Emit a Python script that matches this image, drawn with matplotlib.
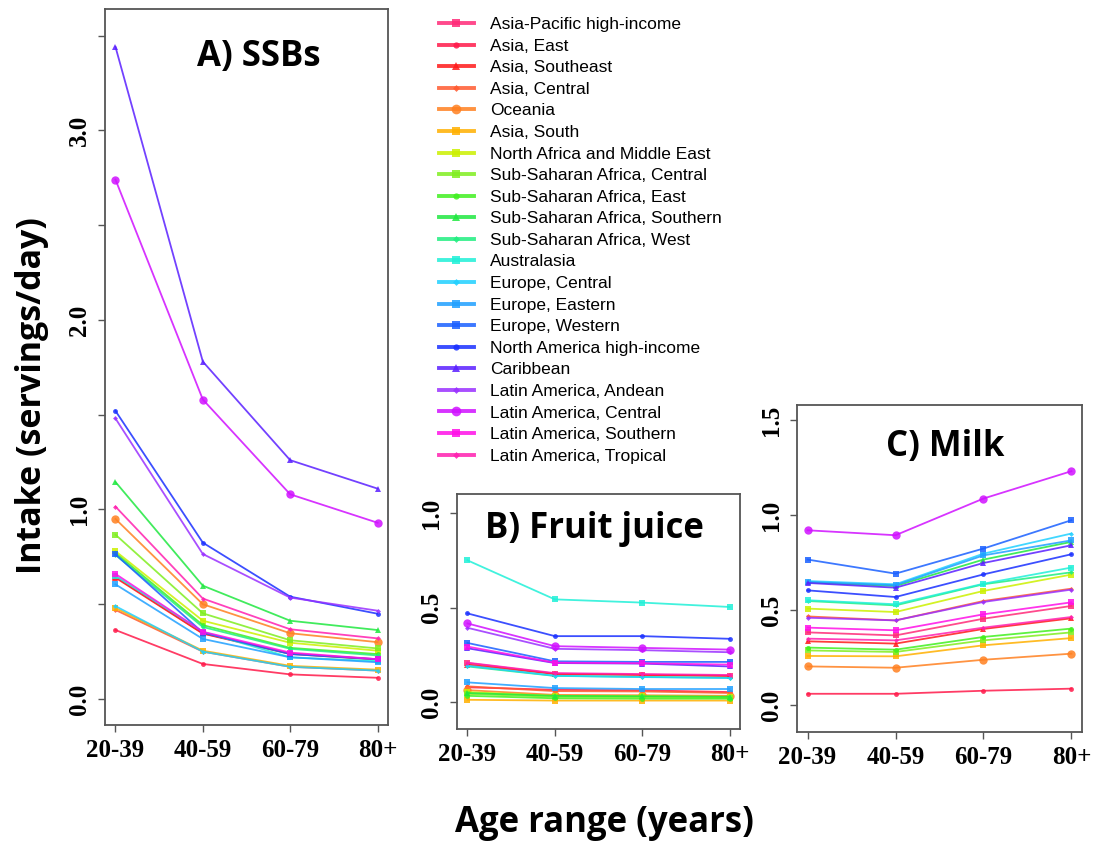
import matplotlib
matplotlib.use('Agg')
import matplotlib.pyplot as plt
from matplotlib.lines import Line2D

age_groups = ['20-39', '40-59', '60-79', '80+']

regions = [
    'Asia-Pacific high-income', 'Asia, East', 'Asia, Southeast', 'Asia, Central',
    'Oceania', 'Asia, South', 'North Africa and Middle East',
    'Sub-Saharan Africa, Central', 'Sub-Saharan Africa, East',
    'Sub-Saharan Africa, Southern', 'Sub-Saharan Africa, West', 'Australasia',
    'Europe, Central', 'Europe, Eastern', 'Europe, Western',
    'North America high-income', 'Caribbean', 'Latin America, Andean',
    'Latin America, Central', 'Latin America, Southern', 'Latin America, Tropical',
]

colors = [
    '#ff2a78', '#ff1a4a', '#ff1a1a', '#ff5a30', '#ff8020', '#ffb000', '#ccf000',
    '#80ee20', '#40f020', '#20e840', '#20ee80', '#20f0d8', '#20d0ff', '#20a0ff',
    '#1a60ff', '#1a30ff', '#5a20ff', '#9a30ff', '#d010ff', '#ff10e8', '#ff20b0',
]

markers = ['s', 'o', '^', 'D', 'o', 's', 's', 's', 'o', '^', 'D', 's', 'D', 's',
           's', 'o', '^', 'D', 'o', 's', 'D']
marker_sizes = [4.5, 3.5, 4.5, 2.5, 6, 4.5, 4.5, 4.5, 3.5, 4.5, 2.5, 4.5, 2.5, 4.5,
                4.5, 3.5, 4.5, 2.5, 6, 4.5, 2.5]

# A) SSBs
ssb_values = [
    [0.645, 0.347, 0.240, 0.210],
    [0.364, 0.185, 0.130, 0.112],
    [0.640, 0.345, 0.238, 0.208],
    [0.470, 0.250, 0.170, 0.150],
    [0.950, 0.500, 0.347, 0.300],
    [0.480, 0.255, 0.175, 0.155],
    [0.780, 0.413, 0.297, 0.255],
    [0.867, 0.452, 0.310, 0.267],
    [0.770, 0.390, 0.270, 0.237],
    [1.145, 0.598, 0.413, 0.364],
    [0.760, 0.380, 0.265, 0.230],
    [0.650, 0.355, 0.220, 0.200],
    [0.490, 0.250, 0.170, 0.150],
    [0.605, 0.317, 0.220, 0.194],
    [0.763, 0.350, 0.237, 0.210],
    [1.520, 0.825, 0.540, 0.450],
    [3.440, 1.780, 1.260, 1.110],
    [1.480, 0.765, 0.535, 0.466],
    [2.740, 1.580, 1.080, 0.930],
    [0.660, 0.355, 0.245, 0.210],
    [1.015, 0.530, 0.368, 0.320],
]

# B) Fruit juice
juice_values = [
    [0.208, 0.152, 0.147, 0.141],
    [0.080, 0.067, 0.064, 0.055],
    [0.200, 0.150, 0.145, 0.140],
    [0.085, 0.060, 0.058, 0.050],
    [0.065, 0.040, 0.038, 0.035],
    [0.014, 0.010, 0.010, 0.010],
    [0.055, 0.035, 0.033, 0.030],
    [0.045, 0.030, 0.028, 0.025],
    [0.035, 0.022, 0.020, 0.020],
    [0.050, 0.035, 0.033, 0.030],
    [0.190, 0.140, 0.135, 0.130],
    [0.750, 0.544, 0.527, 0.504],
    [0.194, 0.141, 0.134, 0.129],
    [0.106, 0.076, 0.071, 0.071],
    [0.314, 0.217, 0.214, 0.214],
    [0.470, 0.350, 0.350, 0.336],
    [0.286, 0.208, 0.205, 0.190],
    [0.394, 0.283, 0.276, 0.265],
    [0.417, 0.297, 0.288, 0.279],
    [0.295, 0.210, 0.207, 0.200],
    [0.210, 0.155, 0.150, 0.145],
]

# C) Milk
milk_values = [
    [0.384, 0.368, 0.456, 0.523],
    [0.061, 0.061, 0.077, 0.088],
    [0.337, 0.325, 0.402, 0.458],
    [0.468, 0.447, 0.549, 0.614],
    [0.205, 0.198, 0.240, 0.272],
    [0.260, 0.258, 0.316, 0.354],
    [0.509, 0.491, 0.602, 0.688],
    [0.289, 0.281, 0.342, 0.384],
    [0.304, 0.293, 0.360, 0.404],
    [0.647, 0.628, 0.767, 0.860],
    [0.549, 0.526, 0.637, 0.700],
    [0.553, 0.532, 0.640, 0.725],
    [0.654, 0.637, 0.798, 0.904],
    [0.649, 0.632, 0.789, 0.868],
    [0.767, 0.693, 0.825, 0.974],
    [0.605, 0.570, 0.689, 0.795],
    [0.644, 0.619, 0.749, 0.842],
    [0.461, 0.447, 0.544, 0.609],
    [0.921, 0.895, 1.088, 1.232],
    [0.409, 0.395, 0.479, 0.542],
    [0.351, 0.342, 0.409, 0.465],
]

W, H = 1107, 841
fig = plt.figure(figsize=(W / 100, H / 100), dpi=100)

tick_font = dict(family='Liberation Serif', size=18, weight='bold')
title_font = dict(family='Open Sans', weight='bold', size=25)


def make_panel(rect, values, ylim, yticks, ylabels, title, title_xy):
    ax = fig.add_axes([rect[0] / W, 1 - rect[3] / H, (rect[2] - rect[0]) / W,
                       (rect[3] - rect[1]) / H])
    x = list(range(len(age_groups)))
    for vals, c, m, ms in zip(values, colors, markers, marker_sizes):
        ax.plot(x, vals, color=c, marker=m, markersize=ms, lw=1.3, alpha=0.85,
                markeredgewidth=0)
    ax.set_xlim(-0.12, 3.12)
    ax.set_ylim(*ylim)
    ax.set_xticks(x)
    ax.set_xticklabels(age_groups, fontdict=tick_font)
    ax.set_yticks(yticks)
    ax.set_yticklabels(ylabels, fontdict=tick_font, rotation=90, va='center')
    ax.tick_params(direction='out', length=5, width=1.0, color='#555555', pad=5)
    for s in ax.spines.values():
        s.set_color('#555555')
        s.set_linewidth(1.3)
    fig.text(title_xy[0] / W, 1 - title_xy[1] / H, title, ha='center', va='center',
             **title_font)
    return ax


make_panel((105, 9, 388, 725), ssb_values, (-0.137, 3.64),
           [0, 0.5, 1, 1.5, 2, 2.5, 3, 3.5],
           ['0.0', '', '1.0', '', '2.0', '', '3.0', ''], 'A) SSBs', (259, 57))
make_panel((457, 494, 740, 729), juice_values, (-0.14, 1.10),
           [0, 0.5, 1.0], ['0.0', '0.5', '1.0'], 'B) Fruit juice', (594, 529))
make_panel((797, 405, 1082, 732), milk_values, (-0.14, 1.58),
           [0, 0.5, 1.0, 1.5], ['0.0', '0.5', '1.0', '1.5'], 'C) Milk', (945, 447))

handles = [Line2D([], [], color=c, marker=m, markersize=ms + 1, lw=2.8, alpha=0.85,
                  markeredgewidth=0)
           for c, m, ms in zip(colors, markers, marker_sizes)]
fig.legend(handles, regions, loc='upper left', bbox_to_anchor=(439 / W, 1 - 17 / H),
           frameon=False, borderpad=0, borderaxespad=0, handlelength=2.0,
           handletextpad=0.95, labelspacing=0.37,
           prop=dict(family='Liberation Sans', size=12.5))

fig.text(32 / W, 1 - 396 / H, 'Intake (servings/day)', rotation=90, ha='center',
         va='center', family='Open Sans', weight='bold', size=24.5)
fig.text(604 / W, 1 - 823 / H, 'Age range (years)', ha='center', va='center',
         family='Open Sans', weight='bold', size=25)

fig.savefig('out.png', dpi=100)
